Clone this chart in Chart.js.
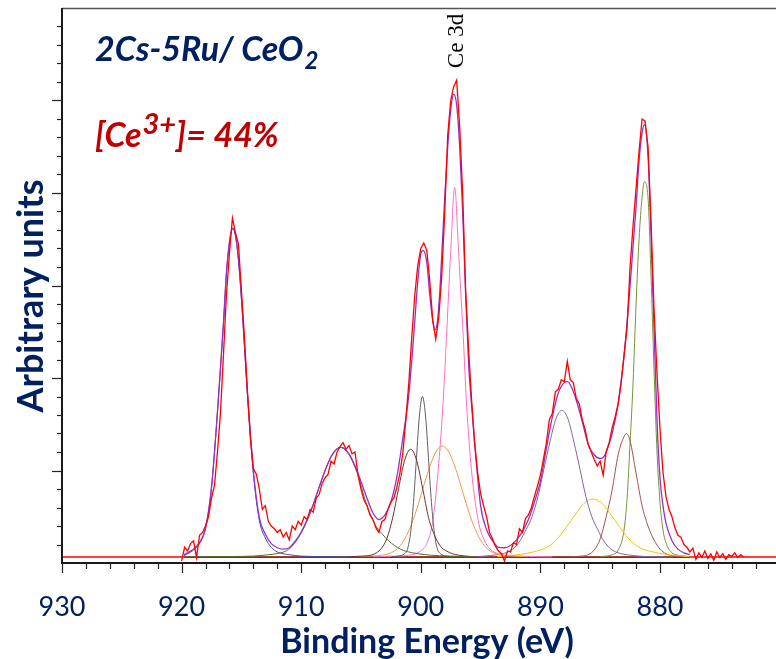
<!DOCTYPE html>
<html><head><meta charset="utf-8">
<script src="https://cdn.jsdelivr.net/npm/chart.js@4.4.1/dist/chart.umd.min.js"></script>
<style>html,body{margin:0;padding:0;background:#fff;}canvas{display:block;}</style>
</head><body>
<canvas id="c" width="776" height="659"></canvas>
<script>
// ---------- axis ----------
const xTickLabels = [930, 920, 910, 900, 890, 880];
const xMin = 870.3, xMax = 930;
const yMin = 0, yMax = 6;

// ---------- raw spectrum (0.25 eV steps, rows of 1 eV) ----------
const rawE = [
 920, 919.75, 919.5, 919.25,
 919, 918.75, 918.5, 918.25,
 918, 917.75, 917.5, 917.25,
 917, 916.75, 916.5, 916.25,
 916, 915.75, 915.5, 915.25,
 915, 914.75, 914.5, 914.25,
 914, 913.75, 913.5, 913.25,
 913, 912.75, 912.5, 912.25,
 912, 911.75, 911.5, 911.25,
 911, 910.75, 910.5, 910.25,
 910, 909.75, 909.5, 909.25,
 909, 908.75, 908.5, 908.25,
 908, 907.75, 907.5, 907.25,
 907, 906.75, 906.5, 906.25,
 906, 905.75, 905.5, 905.25,
 905, 904.75, 904.5, 904.25,
 904, 903.75, 903.5, 903.25,
 903, 902.75, 902.5, 902.25,
 902, 901.75, 901.5, 901.25,
 901, 900.75, 900.5, 900.25,
 900, 899.75, 899.5, 899.25,
 899, 898.75, 898.5, 898.25,
 898, 897.75, 897.5, 897.25,
 897, 896.75, 896.5, 896.25,
 896, 895.75, 895.5, 895.25,
 895, 894.75, 894.5, 894.25,
 894, 893.75, 893.5, 893.25,
 893, 892.75, 892.5, 892.25,
 892, 891.75, 891.5, 891.25,
 891, 890.75, 890.5, 890.25,
 890, 889.75, 889.5, 889.25,
 889, 888.75, 888.5, 888.25,
 888, 887.75, 887.5, 887.25,
 887, 886.75, 886.5, 886.25,
 886, 885.75, 885.5, 885.25,
 885, 884.75, 884.5, 884.25,
 884, 883.75, 883.5, 883.25,
 883, 882.75, 882.5, 882.25,
 882, 881.75, 881.5, 881.25,
 881, 880.75, 880.5, 880.25,
 880, 879.75, 879.5, 879.25,
 879, 878.75, 878.5, 878.25,
 878, 877.75, 877.5, 877.25,
 877, 876.75, 876.5, 876.25,
 876, 875.75, 875.5, 875.25,
 875, 874.75, 874.5, 874.25,
 874, 873.75, 873.5, 873.25,
 873
];
const rawI = [
 0.02, 0.17, 0.13, 0.21,
 0.24, 0.06, 0.30, 0.33,
 0.40, 0.50, 0.70, 0.84,
 1.20, 1.62, 2.25, 2.90,
 3.35, 3.73, 3.57, 3.45,
 2.95, 2.45, 1.85, 1.35,
 1.02, 0.96, 0.80, 0.58,
 0.62, 0.45, 0.40, 0.37,
 0.33, 0.36, 0.28, 0.33,
 0.25, 0.40, 0.36, 0.45,
 0.41, 0.50, 0.47, 0.58,
 0.55, 0.70, 0.74, 0.86,
 0.92, 0.96, 1.10, 1.07,
 1.20, 1.26, 1.30, 1.23,
 1.27, 1.18, 1.20, 0.95,
 0.80, 0.68, 0.62, 0.52,
 0.47, 0.38, 0.33, 0.45,
 0.47, 0.58, 0.66, 0.70,
 0.82, 0.97, 1.19, 1.55,
 1.95, 2.45, 2.90, 3.22,
 3.40, 3.46, 3.38, 3.05,
 2.62, 2.42, 2.65, 3.10,
 3.78, 4.62, 5.00, 5.15,
 5.22, 4.72, 4.00, 2.95,
 2.30, 1.76, 1.30, 0.98,
 0.75, 0.62, 0.50, 0.33,
 0.26, 0.18, 0.13, 0.10,
 0.02, 0.13, 0.12, 0.22,
 0.20, 0.37, 0.33, 0.48,
 0.52, 0.60, 0.72, 0.83,
 0.95, 1.12, 1.30, 1.55,
 1.62, 1.85, 1.88, 1.98,
 1.96, 2.18, 1.98, 1.95,
 1.78, 1.72, 1.55, 1.44,
 1.28, 1.20, 1.12, 1.05,
 1.10, 0.95, 1.20, 1.30,
 1.46, 1.58, 1.72, 1.95,
 2.25, 2.55, 3.20, 3.65,
 4.05, 4.45, 4.80, 4.78,
 4.50, 3.70, 2.75, 2.05,
 1.45, 0.98, 0.72, 0.58,
 0.50, 0.38, 0.30, 0.28,
 0.20, 0.17, 0.12, 0.16,
 0.04, 0.11, 0.06, 0.13,
 0.05, 0.10, 0.03, 0.12,
 0.06, 0.10, 0.04, 0.09,
 0.07, 0.11, 0.06, 0.09,
 0.065
];
const rawBaseE = [930, 920.05, 873, 870.3];
const rawBaseI = [0.065, 0.065, 0.065, 0.065];

// ---------- fit envelope ----------
const envE = [919.8, 919.5, 919.0, 918.5, 918.0, 917.5, 917.0, 916.5, 916.25, 916.0, 915.75, 915.5, 915.25, 915.0, 914.5, 914.0, 913.5, 913.0, 912.5, 912.0, 911.5, 911.0, 910.5, 910.0, 909.5, 909.0, 908.5, 908.0, 907.5, 907.0, 906.7, 906.5, 906.0, 905.5, 905.0, 904.5, 904.0, 903.5, 903.0, 902.5, 902.0, 901.5, 901.0, 900.5, 900.25, 900.0, 899.8, 899.5, 899.25, 899.0, 898.8, 898.6, 898.4, 898.2, 898.0, 897.75, 897.5, 897.25, 897.0, 896.75, 896.5, 896.25, 896.0, 895.75, 895.5, 895.0, 894.5, 894.0, 893.5, 893.0, 892.5, 892.0, 891.5, 891.0, 890.5, 890.0, 889.5, 889.0, 888.5, 888.0, 887.75, 887.5, 887.0, 886.5, 886.0, 885.5, 885.0, 884.75, 884.5, 884.0, 883.5, 883.0, 882.5, 882.0, 881.75, 881.5, 881.3, 881.0, 880.75, 880.5, 880.25, 880.0, 879.75, 879.5, 879.0, 878.5, 878.0, 877.5];
const envI = [0.09, 0.11, 0.15, 0.22, 0.38, 0.82, 1.64, 2.60, 3.14, 3.47, 3.62, 3.55, 3.29, 2.88, 1.86, 1.00, 0.49, 0.31, 0.21, 0.165, 0.15, 0.165, 0.235, 0.335, 0.47, 0.63, 0.82, 1.00, 1.15, 1.235, 1.25, 1.245, 1.18, 1.05, 0.88, 0.70, 0.54, 0.47, 0.52, 0.66, 0.93, 1.35, 1.82, 2.62, 3.05, 3.34, 3.38, 3.25, 2.90, 2.62, 2.52, 2.62, 2.95, 3.45, 3.95, 4.50, 4.90, 5.07, 4.95, 4.50, 3.80, 2.90, 2.15, 1.70, 1.30, 0.62, 0.36, 0.24, 0.17, 0.165, 0.19, 0.25, 0.34, 0.47, 0.66, 0.88, 1.24, 1.58, 1.84, 1.95, 1.96, 1.93, 1.76, 1.53, 1.28, 1.17, 1.13, 1.14, 1.20, 1.40, 1.72, 2.25, 3.00, 3.85, 4.35, 4.65, 4.74, 4.40, 3.55, 2.55, 1.55, 0.92, 0.62, 0.43, 0.24, 0.15, 0.11, 0.09];
const fitBaseE = [919.8, 877.5];
const fitBaseI = [0.062, 0.062];

// ---------- fitted components ----------
const u3E = [919.8, 919.5, 919.0, 918.5, 918.0, 917.5, 917.0, 916.5, 916.25, 916.0, 915.75, 915.5, 915.25, 915.0, 914.5, 914.0, 913.5, 913.0, 912.5, 912.0, 911.0, 910.0, 908.0, 906.0];
const u3I = [0.08, 0.10, 0.14, 0.21, 0.37, 0.81, 1.63, 2.58, 3.13, 3.46, 3.61, 3.54, 3.28, 2.86, 1.84, 0.97, 0.46, 0.27, 0.17, 0.12, 0.09, 0.075, 0.068, 0.065];

const u2E = [919.8, 916.0, 914.0, 912.7, 911.7, 911.2, 910.7, 910.2, 909.7, 909.2, 908.7, 908.2, 907.7, 907.2, 906.7, 906.2, 905.7, 905.2, 904.7, 904.2, 903.7, 903.2, 902.7, 902.2, 901.7, 901.2, 900.2, 899.2, 897.7, 895.7];
const u2I = [0.065, 0.07, 0.075, 0.09, 0.11, 0.135, 0.19, 0.28, 0.40, 0.56, 0.74, 0.93, 1.095, 1.21, 1.25, 1.21, 1.095, 0.93, 0.70, 0.52, 0.39, 0.31, 0.24, 0.19, 0.15, 0.125, 0.10, 0.085, 0.075, 0.068];

const u1E = [905.85, 904.85, 904.35, 903.85, 903.35, 902.85, 902.35, 901.85, 901.35, 900.85, 900.35, 899.85, 899.35, 898.85, 898.35, 897.85, 897.35, 896.85, 895.85];
const u1I = [0.068, 0.075, 0.08, 0.10, 0.15, 0.26, 0.49, 0.81, 1.11, 1.23, 1.11, 0.81, 0.49, 0.30, 0.18, 0.13, 0.10, 0.085, 0.07];

const uE = [902.5, 901.86, 901.36, 901.11, 900.86, 900.61, 900.36, 900.11, 899.86, 899.61, 899.36, 899.11, 898.86, 898.61, 898.36, 897.86, 897.2];
const uI = [0.068, 0.075, 0.10, 0.15, 0.32, 0.655, 1.14, 1.60, 1.80, 1.60, 1.14, 0.655, 0.32, 0.15, 0.10, 0.075, 0.068];

const u0E = [905.2, 904.2, 903.2, 902.7, 902.2, 901.7, 901.2, 900.7, 900.2, 899.7, 899.2, 898.7, 898.2, 897.7, 897.2, 896.7, 896.2, 895.7, 895.2, 894.7, 894.2, 893.7, 893.2, 892.2, 891.2];
const u0I = [0.07, 0.075, 0.085, 0.10, 0.13, 0.19, 0.295, 0.445, 0.64, 0.86, 1.06, 1.21, 1.265, 1.21, 1.06, 0.86, 0.64, 0.445, 0.295, 0.19, 0.13, 0.10, 0.085, 0.075, 0.07];

const v3E = [904.0, 902.0, 901.0, 900.0, 899.5, 899.0, 898.55, 898.15, 897.85, 897.6, 897.4, 897.3, 897.17, 897.05, 896.95, 896.75, 896.45, 896.18, 895.76, 895.2, 894.7, 894.2, 893.5, 892.5, 891.0, 889.0];
const v3I = [0.068, 0.075, 0.085, 0.13, 0.21, 0.45, 1.00, 1.70, 2.45, 3.12, 3.62, 3.90, 4.06, 3.92, 3.65, 3.15, 2.45, 1.73, 1.00, 0.46, 0.25, 0.15, 0.10, 0.08, 0.07, 0.066];

const v2E = [895.2, 894.2, 893.2, 892.7, 892.2, 891.7, 891.2, 890.7, 890.2, 889.7, 889.2, 888.7, 888.2, 887.7, 887.2, 886.7, 886.2, 885.7, 885.2, 884.7, 884.2, 883.7, 883.2, 882.2, 881.2, 879.0];
const v2I = [0.07, 0.08, 0.10, 0.12, 0.16, 0.24, 0.36, 0.50, 0.72, 1.02, 1.31, 1.56, 1.65, 1.56, 1.31, 1.02, 0.72, 0.50, 0.36, 0.24, 0.16, 0.12, 0.10, 0.08, 0.07, 0.066];

const v1E = [893.6, 892.6, 891.6, 890.6, 889.6, 889.1, 888.6, 888.1, 887.6, 887.1, 886.6, 886.1, 885.6, 885.1, 884.6, 884.1, 883.6, 883.1, 882.6, 882.1, 881.6, 880.6, 879.6, 878.6, 877.6];
const v1I = [0.07, 0.08, 0.095, 0.12, 0.16, 0.20, 0.26, 0.34, 0.43, 0.52, 0.61, 0.67, 0.69, 0.67, 0.61, 0.52, 0.43, 0.34, 0.26, 0.20, 0.16, 0.12, 0.095, 0.08, 0.07];

const vE = [887.5, 886.5, 886.0, 885.5, 885.0, 884.5, 884.0, 883.5, 883.0, 882.8, 882.5, 882.0, 881.5, 881.0, 880.5, 880.0, 879.5, 879.0, 878.0];
const vI = [0.068, 0.075, 0.09, 0.14, 0.26, 0.50, 0.79, 1.17, 1.37, 1.40, 1.32, 0.97, 0.62, 0.40, 0.25, 0.15, 0.10, 0.08, 0.068];

const v0E = [885.0, 884.0, 883.5, 883.0, 882.75, 882.5, 882.25, 882.0, 881.75, 881.5, 881.3, 881.0, 880.75, 880.5, 880.25, 880.0, 879.75, 879.5, 879.0, 878.5, 878.0, 877.5];
const v0I = [0.068, 0.09, 0.14, 0.36, 0.70, 1.30, 1.95, 2.80, 3.50, 3.95, 4.12, 3.95, 3.10, 2.10, 1.20, 0.66, 0.36, 0.22, 0.11, 0.085, 0.075, 0.068];

const pts = (E, I) => E.map((e, i) => ({x: e, y: I[i]}));
const comp = (E, I, color) => ({
  data: pts(E, I), borderColor: color, borderWidth: 1, pointRadius: 0,
  cubicInterpolationMode: 'monotone', fill: false
});

const NAVY = '#002060';

const decor = {
  id: 'decor',
  afterDraw(chart) {
    const {ctx, chartArea: a, scales: {x, y}} = chart;
    const line = (x1, y1, x2, y2) => { ctx.beginPath(); ctx.moveTo(x1, y1); ctx.lineTo(x2, y2); ctx.stroke(); };
    ctx.save();
    // frame
    ctx.strokeStyle = '#555'; ctx.lineWidth = 1.5;
    line(a.left, a.top + 0.5, a.right, a.top + 0.5);
    ctx.strokeStyle = '#1a1a1a'; ctx.lineWidth = 2;
    line(a.left, a.top, a.left, a.bottom + 1);
    line(a.left - 1, a.bottom, a.right, a.bottom);
    // y ticks (minor 0.2, major 1)
    ctx.lineWidth = 1.2; ctx.strokeStyle = '#222';
    for (let k = 1; k <= 29; k++) {
      const py = Math.round(y.getPixelForValue(k * 0.2)) + 0.5;
      line(a.left - (k % 5 === 0 ? 10 : 5), py, a.left, py);
    }
    // x ticks (minor 2, major 10)
    for (let e = 930; e >= 872; e -= 2) {
      const px = Math.round(x.getPixelForValue(e)) + 0.5;
      line(px, a.bottom, px, a.bottom + (e % 10 === 0 ? 10 : 6));
    }
    // axis titles
    ctx.fillStyle = NAVY;
    ctx.font = 'bold 34px Lato';
    ctx.textAlign = 'center'; ctx.textBaseline = 'alphabetic';
    ctx.fillText('Binding Energy (eV)', 427, 653);
    ctx.save();
    ctx.translate(43, 296); ctx.rotate(-Math.PI / 2);
    ctx.font = 'bold 36px Lato';
    ctx.fillText('Arbitrary units', 0, 0);
    ctx.restore();
    // sample label
    ctx.textAlign = 'left';
    ctx.font = 'italic bold 34px Lato';
    let tx = 95;
    ctx.fillText('2Cs-5Ru/ CeO', tx, 61);
    tx += ctx.measureText('2Cs-5Ru/ CeO').width + 1;
    ctx.font = 'italic bold 24px Lato';
    ctx.fillText('2', tx, 69);
    // Ce3+ fraction
    ctx.fillStyle = '#c00000';
    ctx.font = 'italic bold 34px Lato';
    tx = 95;
    ctx.fillText('[Ce', tx, 147);
    tx += ctx.measureText('[Ce').width + 1;
    ctx.font = 'italic bold 29px Lato';
    ctx.fillText('3+', tx, 134);
    tx += ctx.measureText('3+').width;
    ctx.font = 'italic bold 34px Lato';
    ctx.fillText(']= 44%', tx, 147);
    // Ce 3d label
    ctx.save();
    ctx.fillStyle = '#000';
    ctx.translate(463, 41); ctx.rotate(-Math.PI / 2);
    ctx.font = '23px "Liberation Serif"';
    ctx.textAlign = 'center';
    ctx.fillText('Ce 3d', 0, 0);
    ctx.restore();
    ctx.restore();
  }
};

new Chart(document.getElementById('c'), {
  type: 'line',
  data: {
    datasets: [
      {data: pts(rawE, rawI), borderColor: '#ff0000', borderWidth: 1.3, pointRadius: 0, tension: 0, fill: false},
      {data: pts(envE, envI), borderColor: '#9a2fc4', borderWidth: 1.3, pointRadius: 0, cubicInterpolationMode: 'monotone', fill: false},
      comp(u3E, u3I, '#3c4fae'),
      comp(u2E, u2I, '#5b6a2e'),
      comp(u1E, u1I, '#6e2f2a'),
      comp(uE, uI, '#5f5f5f'),
      comp(u0E, u0I, '#f79646'),
      comp(v3E, v3I, '#ff70c0'),
      comp(v2E, v2I, '#8064a2'),
      comp(v1E, v1I, '#ffc000'),
      comp(vE, vI, '#a5504c'),
      comp(v0E, v0I, '#77933c'),
      {data: pts(fitBaseE, fitBaseI), borderColor: '#4a4a26', borderWidth: 1.6, pointRadius: 0, fill: false},
      {data: pts(rawBaseE, rawBaseI), borderColor: '#ff0000', borderWidth: 1.3, pointRadius: 0, fill: false}
    ]
  },
  options: {
    responsive: false, animation: false, devicePixelRatio: 1,
    layout: {padding: {top: 8, left: 0, right: 0, bottom: 0}},
    plugins: {legend: {display: false}, tooltip: {enabled: false}},
    scales: {
      x: {
        type: 'linear', reverse: true, min: xMin, max: xMax,
        afterBuildTicks: s => { s.ticks = xTickLabels.map(v => ({value: v})); },
        afterFit: s => { s.height = 96; },
        grid: {display: false, drawTicks: false}, border: {display: false},
        ticks: {font: {family: 'Lato', size: 27}, color: NAVY, padding: 28, maxRotation: 0, autoSkip: false,
                callback: v => String(v)}
      },
      y: {
        min: yMin, max: yMax,
        afterFit: s => { s.width = 62; },
        grid: {display: false, drawTicks: false}, border: {display: false},
        ticks: {display: false}
      }
    }
  },
  plugins: [decor]
});
</script>
</body></html>
